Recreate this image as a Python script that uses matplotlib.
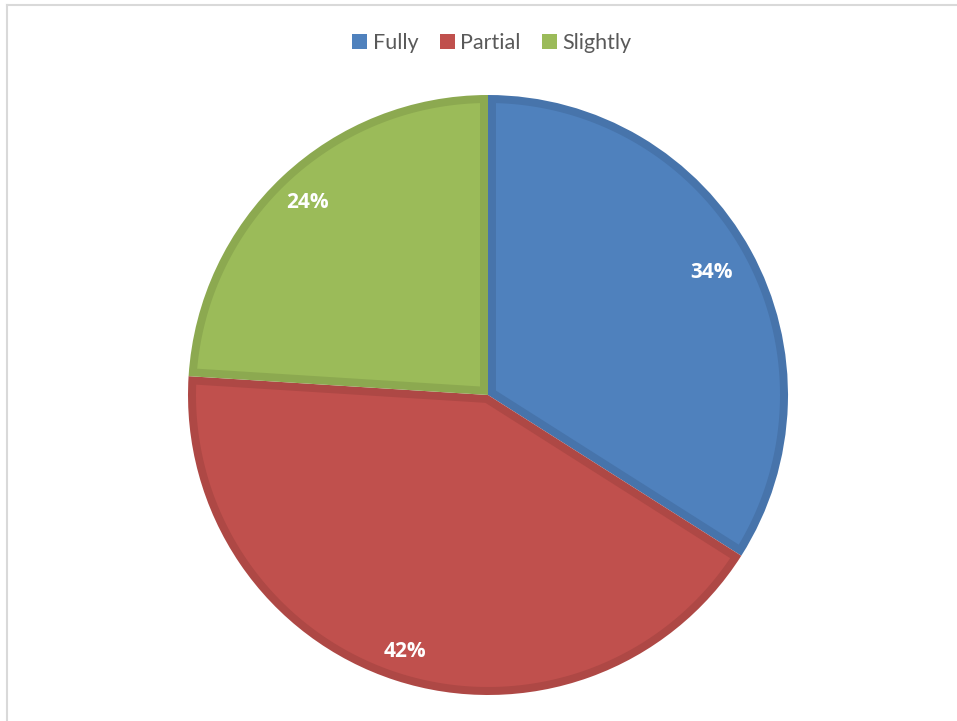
import numpy as np
import matplotlib.pyplot as plt
from matplotlib.patches import Patch, Polygon
from matplotlib.lines import Line2D

# --------------------------------------------------
# Data
# --------------------------------------------------

labels = ["Fully", "Partial", "Slightly"]
values = [34, 42, 24]
colors = ["#4F81BD", "#C0504D", "#9BBB59"]
edge_colors = ["#4774AB", "#AE4845", "#8CA950"]
label_dist = [0.85, 0.90, 0.88]  # radial position of the % labels

plt.rcParams["font.family"] = ["Lato", "DejaVu Sans"]

# --------------------------------------------------
# Plot
# --------------------------------------------------

W, H = 957, 721
CENTER = (488, H - 395)
RADIUS = 300
RIM = 8  # width of the darker inner rim (data units = px)

fig = plt.figure(figsize=(W / 100, H / 100), dpi=100)
ax = fig.add_axes([0, 0, 1, 1])

wedges, texts, autotexts = ax.pie(
    values,
    colors=edge_colors,
    startangle=90,
    counterclock=False,
    center=CENTER,
    radius=RADIUS,
    autopct="%d%%",
    pctdistance=0.85,
    wedgeprops=dict(linewidth=0),
    textprops=dict(color="white", fontsize=15, fontweight="bold",
                   family=["Open Sans", "DejaVu Sans"]),
    frame=True,
)
ax.set_xlim(0, W)
ax.set_ylim(0, H)
ax.set_aspect("equal")
ax.axis("off")

# lighter inset of each wedge, leaving a darker rim
for w, fc, t, ld in zip(wedges, colors, autotexts, label_dist):
    a1, a2 = np.deg2rad(w.theta1), np.deg2rad(w.theta2)
    span = a2 - a1
    cx, cy = w.center
    r_in = w.r - RIM
    phi = np.arcsin(RIM / r_in)
    d = RIM / np.sin(span / 2)
    mid = (a1 + a2) / 2
    apex = (cx + d * np.cos(mid), cy + d * np.sin(mid))
    ang = np.linspace(a1 + phi, a2 - phi, 200)
    pts = [apex] + list(zip(cx + r_in * np.cos(ang), cy + r_in * np.sin(ang)))
    ax.add_patch(Polygon(pts, closed=True, facecolor=fc, edgecolor="none", zorder=1.5))

    t.set_position((cx + ld * w.r * np.cos(mid), cy + ld * w.r * np.sin(mid)))
    t.set_zorder(3)

# thin frame (top and left only visible)
fig.add_artist(Line2D([6.5 / W, 1], [1 - 5 / H, 1 - 5 / H], color="#D9D9D9", lw=1.5))
fig.add_artist(Line2D([6.5 / W, 6.5 / W], [0, 1 - 5 / H], color="#D9D9D9", lw=1.5))

handles = [Patch(facecolor=c, edgecolor="none", label=l) for l, c in zip(labels, colors)]
fig.legend(
    handles=handles,
    loc="center",
    bbox_to_anchor=(492 / W, 1 - 43 / H),
    ncol=3,
    frameon=False,
    handlelength=0.7,
    handleheight=0.7,
    handletextpad=0.25,
    columnspacing=1.0,
    fontsize=15.5,
    labelcolor="#595959",
)

plt.savefig("out.png", dpi=100)
